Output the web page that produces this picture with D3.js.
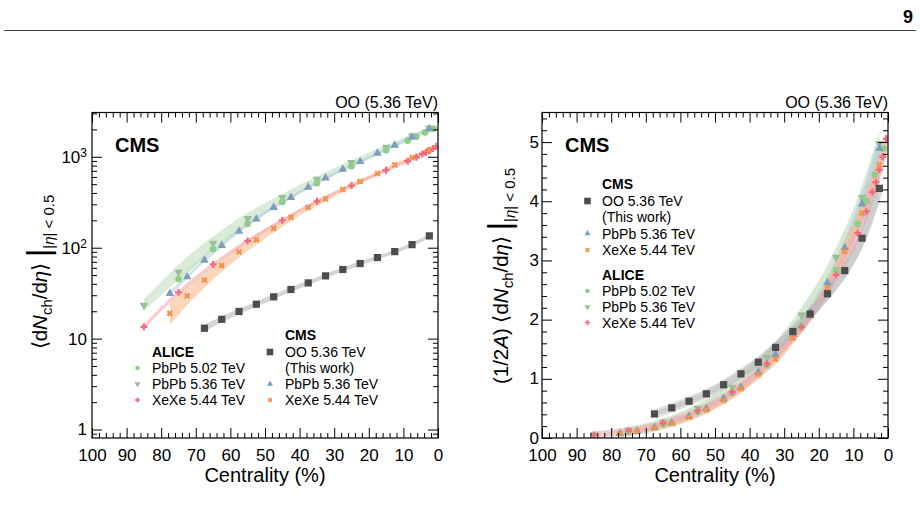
<!DOCTYPE html>
<html>
<head>
<meta charset="utf-8">
<script src="https://cdn.jsdelivr.net/npm/d3@7"></script>
<style>
  body { margin: 0; background: #fff; }
  svg { display: block; font-family: "Liberation Sans", Arial, Helvetica, sans-serif; }
</style>
</head>
<body>
<div id="container"></div>
<script>
// ---------------------------------- DATA ----------------------------------//
// CMS OO 5.36 TeV (this work)
const ooCent = [67.5, 62.5, 57.5, 52.5, 47.5, 42.5, 37.5, 32.5, 27.5, 22.5, 17.5, 12.5, 7.5, 2.5];
const ooVal = [13.0, 16.3, 19.9, 23.9, 28.8, 34.7, 41.0, 49.0, 57.6, 67.0, 78.0, 90.5, 108, 135];
const ooBand = [0.09, 0.08, 0.075, 0.07, 0.065, 0.06, 0.06, 0.055, 0.055, 0.05, 0.05, 0.05, 0.05, 0.05];

// CMS PbPb 5.36 TeV and XeXe 5.44 TeV
const cmsCent = [77.5, 72.5, 67.5, 62.5, 57.5, 52.5, 47.5, 42.5, 37.5, 32.5, 27.5, 22.5, 17.5, 12.5, 7.5, 2.5];
const cmsPbVal = [31.4, 47.8, 72.9, 106, 152, 207, 277, 356, 462, 585, 729, 885, 1092, 1337, 1645, 2035];
const cmsPbBand = [0.06, 0.055, 0.05, 0.05, 0.045, 0.045, 0.04, 0.04, 0.04, 0.04, 0.035, 0.035, 0.035, 0.035, 0.035, 0.035];
const cmsXeVal = [18.9, 29.5, 44.0, 63.7, 90.0, 122, 163, 215, 277, 344, 436, 534, 653, 813, 980, 1190];
const cmsXeBand = [0.34, 0.27, 0.21, 0.17, 0.15, 0.135, 0.11, 0.09, 0.08, 0.07, 0.06, 0.06, 0.05, 0.05, 0.05, 0.05];

// ALICE PbPb 5.02 TeV
const alicePb502Cent = [1.25, 3.75, 6.25, 8.75, 15, 25, 35, 45, 55, 65, 75];
const alicePb502Val = [2035, 1850, 1666, 1505, 1180, 786, 512, 318, 183, 96.3, 44.9];
const alicePb502Band = [0.03, 0.03, 0.03, 0.03, 0.03, 0.03, 0.035, 0.04, 0.045, 0.05, 0.06];

// ALICE PbPb 5.36 TeV
const alicePb536Cent = [2.5, 7.5, 15, 25, 35, 45, 55, 65, 75, 85];
const alicePb536Val = [2070, 1690, 1270, 864, 566, 356, 209, 112, 53.8, 23.3];
const alicePb536Band = [0.045, 0.05, 0.055, 0.065, 0.08, 0.1, 0.16, 0.19, 0.21, 0.16];

// ALICE XeXe 5.44 TeV
const aliceXeCent = [0.5, 1.5, 2.5, 3.5, 4.5, 6.25, 8.75, 15, 25, 35, 45, 55, 65, 75, 85];
const aliceXeVal = [1305, 1226, 1169, 1115, 1073, 988, 893, 711, 483, 324, 200, 119, 65.4, 32.2, 13.5];
const aliceXeBand = [0.04, 0.04, 0.04, 0.04, 0.04, 0.04, 0.04, 0.04, 0.04, 0.04, 0.045, 0.05, 0.05, 0.055, 0.06];

// tick labels
const centTicks = [100, 90, 80, 70, 60, 50, 40, 30, 20, 10, 0];
const logTicks = [1, 10, 100, 1000];
const linTicks = [0, 1, 2, 3, 4, 5];

// ---------------------------------- SETUP ---------------------------------//
const width = 920;
const height = 511;
const plotTop = 112.5;
const plotBottom = 438;

const svg = d3.select("#container").append("svg")
  .attr("width", width)
  .attr("height", height);

// page header
svg.append("text")
  .attr("x", 913).attr("y", 23)
  .attr("text-anchor", "end")
  .attr("font-weight", "bold")
  .attr("font-size", 18)
  .text("9");
svg.append("line")
  .attr("x1", 4).attr("x2", 916)
  .attr("y1", 30.5).attr("y2", 30.5)
  .attr("stroke", "#444").attr("stroke-width", 1);

const series = [
  { id: "alicePb536", cent: alicePb536Cent, val: alicePb536Val, band: alicePb536Band, twoA: 416,
    type: d3.symbolTriangle, rot: 180, size: 32, legSize: 16, color: "#99c096", bandColor: "#c3ddbf" },
  { id: "alicePb502", cent: alicePb502Cent, val: alicePb502Val, band: alicePb502Band, twoA: 416,
    type: d3.symbolCircle, rot: 0, size: 34, legSize: 16, color: "#8ccf8a", bandColor: "#bfe2bc" },
  { id: "cmsPb", cent: cmsCent, val: cmsPbVal, band: cmsPbBand, twoA: 416,
    type: d3.symbolTriangle, rot: 0, size: 32, legSize: 16, color: "#7d9fbd", bandColor: "#b9cde1" },
  { id: "cmsXe", cent: cmsCent, val: cmsXeVal, band: cmsXeBand, twoA: 258,
    type: d3.symbolCross, rot: 45, size: 26, legSize: 15, color: "#f0934d", bandColor: "#f6bd90" },
  { id: "aliceXe", cent: aliceXeCent, val: aliceXeVal, band: aliceXeBand, twoA: 258,
    type: d3.symbolCross, rot: 0, size: 26, legSize: 15, color: "#f5697a", bandColor: "#f7aab1" },
  { id: "oo", cent: ooCent, val: ooVal, band: ooBand, twoA: 32,
    type: d3.symbolSquare, rot: 0, size: 52, legSize: 44, color: "#4d4d4d", bandColor: "#b8b8b8" }
];
const byId = {};
series.forEach(s => byId[s.id] = s);

const panels = [
  { id: "left", x0: 92, x1: 438, log: true, domain: [0.807, 3070], norm: false, centerWidth: 0, opacity: 0.6 },
  { id: "right", x0: 542, x1: 888, log: false, domain: [0, 5.5], norm: true, centerWidth: 7, opacity: 0.45 }
];

function styleAxis(sel) {
  sel.select(".domain").remove();
  sel.selectAll(".tick line").attr("stroke", "#000").attr("stroke-width", 1);
  sel.attr("font-family", null).attr("font-size", 17);
  sel.selectAll(".tick text").attr("fill", "#000");
}

panels.forEach(p => {
  const g = svg.append("g");
  const xScale = d3.scaleLinear().domain([100, 0]).range([p.x0, p.x1]);
  const yScale = (p.log ? d3.scaleLog() : d3.scaleLinear())
    .domain(p.domain).range([plotBottom, plotTop]);

  g.append("clipPath").attr("id", "clip-" + p.id)
    .append("rect")
    .attr("x", p.x0).attr("y", plotTop)
    .attr("width", p.x1 - p.x0).attr("height", plotBottom - plotTop);

  //----------------------------- BANDS -----------------------------//
  const plotArea = g.append("g").attr("clip-path", "url(#clip-" + p.id + ")");
  const points = s => s.cent.map((c, i) => ({
    c: c,
    v: p.norm ? s.val[i] / s.twoA : s.val[i],
    e: s.band[i]
  })).sort((a, b) => b.c - a.c);

  const area = d3.area().curve(d3.curveMonotoneX)
    .x(d => xScale(d.c))
    .y0(d => yScale(d.v / (1 + d.e)))
    .y1(d => yScale(d.v * (1 + d.e)));
  const line = d3.line().curve(d3.curveMonotoneX)
    .x(d => xScale(d.c))
    .y(d => yScale(d.v));

  const bandOrder = ["alicePb536", "alicePb502", "cmsPb", "cmsXe", "aliceXe", "oo"];
  bandOrder.forEach(id => {
    const s = byId[id];
    const pts = points(s);
    plotArea.append("path")
      .attr("d", area(pts))
      .attr("fill", s.bandColor)
      .attr("fill-opacity", p.opacity);
    if (p.centerWidth > 0) {
      plotArea.append("path")
        .attr("d", line(pts))
        .attr("fill", "none")
        .attr("stroke", s.bandColor)
        .attr("stroke-opacity", p.opacity)
        .attr("stroke-width", id === "oo" ? p.centerWidth + 2 : p.centerWidth);
    }
  });

  //---------------------------- MARKERS ----------------------------//
  const markerOrder = ["alicePb536", "alicePb502", "cmsPb", "aliceXe", "cmsXe", "oo"];
  markerOrder.forEach(id => {
    const s = byId[id];
    plotArea.append("g").selectAll("path")
      .data(points(s))
      .enter().append("path")
      .attr("d", d3.symbol().type(s.type).size(s.size))
      .attr("transform", d => "translate(" + xScale(d.c) + "," + yScale(d.v) + ") rotate(" + s.rot + ")")
      .attr("fill", s.color);
  });

  //------------------------------ AXES -----------------------------//
  const minorX = d3.range(0, 101, 2).filter(v => v % 10 !== 0);
  g.append("g").attr("transform", "translate(0," + plotBottom + ")")
    .call(d3.axisBottom(xScale).tickValues(minorX).tickSize(-5).tickFormat(""))
    .call(styleAxis);
  g.append("g").attr("transform", "translate(0," + plotBottom + ")")
    .call(d3.axisBottom(xScale).tickValues(centTicks).tickSize(-10).tickPadding(11).tickFormat(d3.format("d")))
    .call(styleAxis);
  g.append("g").attr("transform", "translate(0," + plotTop + ")")
    .call(d3.axisTop(xScale).tickValues(minorX).tickSize(-5).tickFormat(""))
    .call(styleAxis);
  g.append("g").attr("transform", "translate(0," + plotTop + ")")
    .call(d3.axisTop(xScale).tickValues(centTicks).tickSize(-10).tickFormat(""))
    .call(styleAxis);

  let majorY, minorY;
  if (p.log) {
    majorY = logTicks;
    minorY = [0.9];
    [1, 10, 100, 1000].forEach(dec => d3.range(2, 10).forEach(m => {
      if (m * dec <= p.domain[1]) minorY.push(m * dec);
    }));
  } else {
    majorY = linTicks;
    minorY = d3.range(0, 5.5, 0.2).filter(v => Math.abs(v - Math.round(v)) > 1e-6);
  }
  g.append("g").attr("transform", "translate(" + p.x0 + ",0)")
    .call(d3.axisLeft(yScale).tickValues(minorY).tickSize(-5).tickFormat(""))
    .call(styleAxis);
  const yAx = g.append("g").attr("transform", "translate(" + p.x0 + ",0)")
    .call(d3.axisLeft(yScale).tickValues(majorY).tickSize(-10)
      .tickPadding(p.log ? 5 : 3).tickFormat(d3.format("d")))
    .call(styleAxis);
  g.append("g").attr("transform", "translate(" + p.x1 + ",0)")
    .call(d3.axisRight(yScale).tickValues(minorY).tickSize(-5).tickFormat(""))
    .call(styleAxis);
  g.append("g").attr("transform", "translate(" + p.x1 + ",0)")
    .call(d3.axisRight(yScale).tickValues(majorY).tickSize(-10).tickFormat(""))
    .call(styleAxis);

  if (p.log) {
    yAx.selectAll(".tick text").each(function(d) {
      if (d >= 100) {
        const t = d3.select(this);
        t.text("10");
        t.append("tspan")
          .attr("dy", "-0.5em")
          .attr("font-size", 12)
          .text(Math.round(Math.log10(d)));
      }
    });
  } else {
    yAx.selectAll(".tick text").attr("dy", "0.3em");
  }

  // frame
  g.append("rect")
    .attr("x", p.x0).attr("y", plotTop)
    .attr("width", p.x1 - p.x0).attr("height", plotBottom - plotTop)
    .attr("fill", "none").attr("stroke", "#000").attr("stroke-width", 1.2);

  // titles
  g.append("text")
    .attr("x", p.x1).attr("y", 108)
    .attr("text-anchor", "end")
    .attr("font-size", 16)
    .text("OO (5.36 TeV)");
  g.append("text")
    .attr("x", p.x0 + 23).attr("y", 152)
    .attr("font-size", 20).attr("font-weight", "bold")
    .text("CMS");
  g.append("text")
    .attr("x", (p.x0 + p.x1) / 2).attr("y", 482)
    .attr("text-anchor", "middle")
    .attr("font-size", 20)
    .text("Centrality (%)");

  // y label
  const ylab = g.append("text")
    .attr("transform", "translate(" + (p.log ? 47 : 508) + "," + (p.log ? 272 : 276) + ") rotate(-90)")
    .attr("text-anchor", "middle")
    .attr("font-size", 20.5);
  if (p.norm) {
    ylab.append("tspan").text("(1/2");
    ylab.append("tspan").attr("font-style", "italic").text("A");
    ylab.append("tspan").text(") ");
  }
  ylab.append("tspan").text("\u27E8d");
  ylab.append("tspan").attr("font-style", "italic").text("N");
  ylab.append("tspan").attr("font-size", 15).attr("dy", 5).text("ch");
  ylab.append("tspan").attr("dy", -5).text("/d");
  ylab.append("tspan").attr("font-style", "italic").text("\u03B7");
  ylab.append("tspan").text("\u27E9 ");
  ylab.append("tspan").attr("font-size", 32).attr("dy", 2).text("|");
  ylab.append("tspan").attr("font-size", 15).attr("dy", 5).text("|");
  ylab.append("tspan").attr("font-size", 15).attr("font-style", "italic").text("\u03B7");
  ylab.append("tspan").attr("font-size", 15).text("| < 0.5");
});

//--------------------------------- LEGENDS --------------------------------//
function legendHeader(x, y, label) {
  svg.append("text").attr("x", x).attr("y", y)
    .attr("font-size", 14).attr("font-weight", "bold").text(label);
}
function legendRow(mx, tx, y, id, label) {
  if (id) {
    const s = byId[id];
    svg.append("path")
      .attr("d", d3.symbol().type(s.type).size(s.legSize))
      .attr("transform", "translate(" + mx + "," + (y - 5) + ") rotate(" + s.rot + ")")
      .attr("fill", s.color);
  }
  svg.append("text").attr("x", tx).attr("y", y).attr("font-size", 14).text(label);
}

// left panel legend
legendHeader(152, 357, "ALICE");
legendRow(137.5, 152, 373, "alicePb502", "PbPb 5.02 TeV");
legendRow(137.5, 152, 389, "alicePb536", "PbPb 5.36 TeV");
legendRow(137.5, 152, 405, "aliceXe", "XeXe 5.44 TeV");
legendHeader(285, 340, "CMS");
legendRow(270, 285, 357, "oo", "OO 5.36 TeV");
legendRow(270, 285, 373, null, "(This work)");
legendRow(270, 285, 389, "cmsPb", "PbPb 5.36 TeV");
legendRow(270, 285, 405, "cmsXe", "XeXe 5.44 TeV");

// right panel legend
legendHeader(602, 189, "CMS");
legendRow(587.5, 602, 206, "oo", "OO 5.36 TeV");
legendRow(587.5, 602, 222, null, "(This work)");
legendRow(587.5, 602, 238.5, "cmsPb", "PbPb 5.36 TeV");
legendRow(587.5, 602, 255, "cmsXe", "XeXe 5.44 TeV");
legendHeader(602, 280, "ALICE");
legendRow(587.5, 602, 296, "alicePb502", "PbPb 5.02 TeV");
legendRow(587.5, 602, 312, "alicePb536", "PbPb 5.36 TeV");
legendRow(587.5, 602, 327.5, "aliceXe", "XeXe 5.44 TeV");
</script>
</body>
</html>
